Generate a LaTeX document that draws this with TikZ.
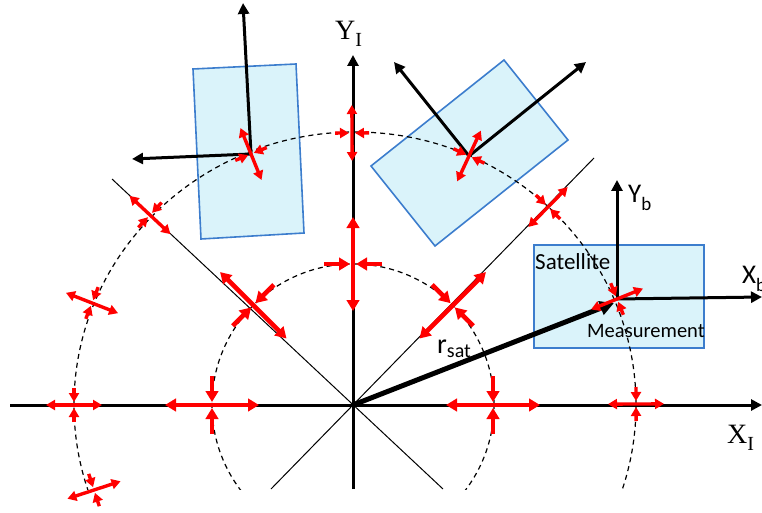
\documentclass[tikz,border=0pt]{standalone}
\usepackage{fontspec}
\newfontfamily\timesfont{Liberation Serif}
\newfontfamily\calfont{Carlito}
\usetikzlibrary{arrows.meta,calc}
\definecolor{boxfill}{RGB}{218,243,250}
\definecolor{boxline}{RGB}{60,125,205}
\tikzset{
  satbox/.style={draw=boxline, fill=boxfill, line width=1.6pt},
  orbit/.style={dash pattern=on 5pt off 4pt, line width=1.2pt},
  mainaxis/.style={line width=3pt, -{Triangle[length=11pt,width=11pt]}},
  diag/.style={line width=1pt},
  bodyax/.style={line width=3pt, -{Triangle[length=11pt,width=11pt]}},
  rvec/.style={line width=5pt, -{Triangle[length=14pt,width=14pt]}},
  gin/.style={red, line width=4.6pt, >={Triangle[length=11pt,width=12.5pt]}},
  gout/.style={red, line width=3.4pt, >={Triangle[length=9pt,width=10pt]}},
  lbl/.style={anchor=base west, inner sep=0pt},
}
\newcommand{\gravcross}[5]{%
  \draw[#2,<->] ($(#1)!#3pt!(O)$) -- ($(#1)!-#3pt!(O)$);
  \draw[#2,->] ($(#1)!#4pt!90:(O)$) -- ($(#1)!#5pt!90:(O)$);
  \draw[#2,->] ($(#1)!#4pt!-90:(O)$) -- ($(#1)!#5pt!-90:(O)$);
}
\begin{document}
\begin{tikzpicture}[x=1pt,y=1pt]
\useasboundingbox (0,0) rectangle (762,512);
% origin
\coordinate (O) at (353,107);
% satellite boxes
\draw[satbox] (193,443) -- (296,448) -- (304,279) -- (201,273) -- cycle;
\draw[satbox] (504,452) -- (568,372) -- (435,266) -- (371,346) -- cycle;
\draw[satbox] (534,164) rectangle (704,267);
% clipped part: orbits, diagonals, Y axis
\begin{scope}
  \clip (0,23) rectangle (762,512);
  \draw[orbit] (O) circle [radius=141];
  \draw[orbit] (355,107) ellipse [x radius=281, y radius=273];
  \coordinate (dA1) at (112,333);
  \coordinate (dA2) at (443,23);
  \coordinate (dB1) at (594,354);
  \coordinate (dB2) at (271,23);
  \draw[diag] (dA1) -- (dA2);
  \draw[diag] (dB1) -- (dB2);
  \coordinate (Ybot) at (353,23);
  \coordinate (Ytop) at (353,457);
  \draw[mainaxis] (Ybot) -- (Ytop);
\end{scope}
% X axis
\coordinate (Xleft) at (10,107);
\coordinate (Xright) at (762,107);
\draw[mainaxis] (Xleft) -- (Xright);
% body frames
\coordinate (S1) at (251,358);
\coordinate (S1y) at (243,509);
\coordinate (S1x) at (132,353);
\draw[bodyax] (S1) -- (S1y);
\draw[bodyax] (S1) -- (S1x);
\coordinate (S2) at (469,356);
\coordinate (S2a) at (394,450);
\coordinate (S2b) at (586,450);
\draw[bodyax] (S2) -- (S2a);
\draw[bodyax] (S2) -- (S2b);
\coordinate (S3) at (617,213);
\coordinate (S3y) at (617,332);
\coordinate (S3x) at (762,215);
\draw[bodyax] (S3) -- (S3y);
\draw[bodyax] (S3) -- (S3x);
% r_sat
\coordinate (Rtip) at (614,209);
\draw[rvec] (O) -- (Rtip);
% inner orbit crosses
\coordinate (I180) at (212,107);
\coordinate (I135) at ($(O)+(135:141)$);
\coordinate (I90) at (353,248);
\coordinate (I45) at ($(O)+(45:141)$);
\coordinate (I0) at (493,107);
\foreach \p in {I180,I135,I90,I45,I0} {\gravcross{\p}{gin}{47}{29}{3}}
% outer orbit crosses
\coordinate (P180) at (74,107);
\coordinate (P159) at (92,209);
\coordinate (P198) at (94,22);
\coordinate (P135) at (150,297);
\coordinate (P90) at (352,379);
\coordinate (P45) at (548,305);
\coordinate (P0) at (636,108);
\foreach \p in {P180,P159,P198,P135,S1,P90,S2,P45,S3,P0} {\gravcross{\p}{gout}{28}{17}{3}}
% labels
\node[lbl] (YI) at (335,472) {\timesfont\fontsize{28pt}{28pt}\selectfont Y\raisebox{-7pt}{\fontsize{20pt}{20pt}\selectfont I}};
\node[lbl] (XI) at (727,69) {\timesfont\fontsize{28pt}{28pt}\selectfont X\raisebox{-7pt}{\fontsize{20pt}{20pt}\selectfont I}};
\node[lbl] (Yb) at (628,309) {\calfont\fontsize{27pt}{27pt}\selectfont Y\raisebox{-8pt}{\fontsize{19pt}{19pt}\selectfont b}};
\node[lbl] (Xb) at (742,229) {\calfont\fontsize{27pt}{27pt}\selectfont X\raisebox{-8pt}{\fontsize{19pt}{19pt}\selectfont b}};
\node[lbl] (sat) at (535,243) {\calfont\fontsize{23pt}{23pt}\selectfont Satellite};
\node[lbl] (meas) at (587,175) {\calfont\fontsize{20.5pt}{20.5pt}\selectfont Measurement};
\node[lbl] (rs) at (437,159) {\calfont\fontsize{28pt}{28pt}\selectfont r\raisebox{-4pt}{\fontsize{20pt}{20pt}\selectfont sat}};
\end{tikzpicture}
\end{document}
